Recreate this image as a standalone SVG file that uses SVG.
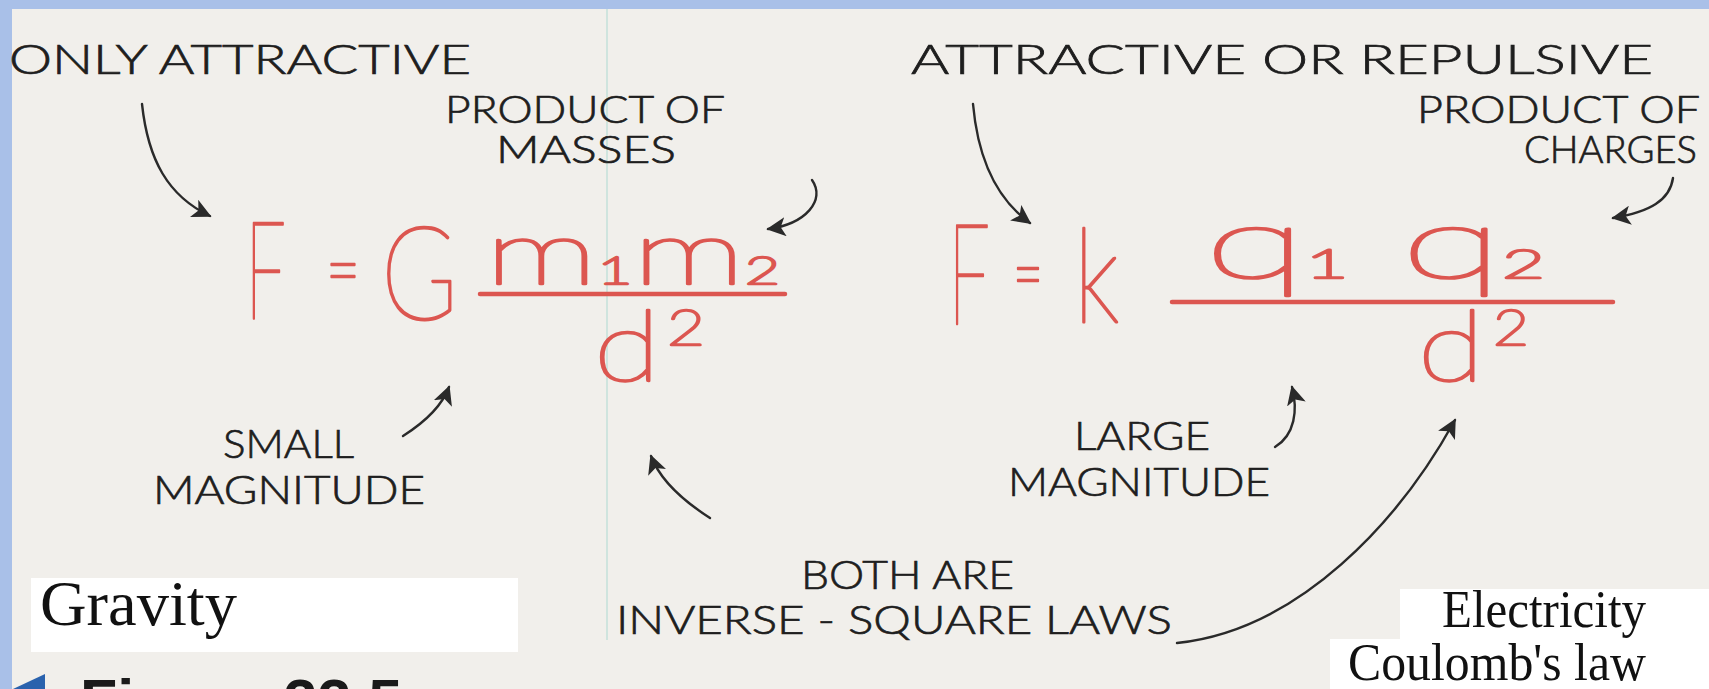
<svg xmlns="http://www.w3.org/2000/svg" width="1709" height="689" viewBox="0 0 1709 689">
<style>
.lbl{font-family:Lato,"Liberation Sans",sans-serif;font-weight:300;fill:#1e1e1e;stroke:#1e1e1e;stroke-width:0.7;}
.eq{font-family:Lato,"Liberation Sans",sans-serif;font-weight:200;fill:#dc5650;stroke:#dc5650;stroke-width:2.6;stroke-linejoin:round;}
.cap{font-family:"Liberation Serif",serif;fill:#111;}
.arr{fill:none;stroke:#2a2a2a;stroke-width:2.4;stroke-linecap:round;marker-end:url(#ah);}
.bar{stroke:#dc5650;stroke-width:4.5;stroke-linecap:round;}
</style>
<defs>
<marker id="ah" viewBox="0 0 12 12" refX="11" refY="6" markerWidth="8" markerHeight="8" orient="auto" markerUnits="strokeWidth">
<path d="M0,0 L12,6 L0,12 L3,6 z" fill="#2a2a2a"/>
</marker>
</defs>
<rect width="1709" height="689" fill="#f1efeb"/>
<rect x="0" y="0" width="1709" height="9" fill="#a9c0e8"/>
<rect x="0" y="0" width="12" height="689" fill="#a9c0e8"/>
<line x1="607" y1="9" x2="607" y2="640" stroke="#cfe4de" stroke-width="2"/>
<g id="label-only-attractive"><text class="lbl" x="9" y="74" font-size="42" textLength="462" lengthAdjust="spacingAndGlyphs">ONLY ATTRACTIVE</text></g>
<g id="label-attractive-or-repulsive"><text class="lbl" x="911" y="74" font-size="42" textLength="742" lengthAdjust="spacingAndGlyphs">ATTRACTIVE  OR  REPULSIVE</text></g>
<g id="label-product-masses">
<text class="lbl" x="445" y="123" font-size="38" textLength="280" lengthAdjust="spacingAndGlyphs">PRODUCT OF</text>
<text class="lbl" x="496" y="163" font-size="38" textLength="180" lengthAdjust="spacingAndGlyphs">MASSES</text>
</g>
<g id="label-product-charges">
<text class="lbl" x="1417" y="123" font-size="38" textLength="283" lengthAdjust="spacingAndGlyphs">PRODUCT OF</text>
<text class="lbl" x="1524" y="163" font-size="38" textLength="173" lengthAdjust="spacingAndGlyphs">CHARGES</text>
</g>
<g id="formula-gravity">
<text class="eq" x="245" y="318" font-size="136" textLength="41" lengthAdjust="spacingAndGlyphs">F</text>
<text class="eq" x="326" y="299" font-size="84" textLength="34" lengthAdjust="spacingAndGlyphs">=</text>
<text class="eq" x="381" y="320" font-size="130" textLength="77" lengthAdjust="spacingAndGlyphs">G</text>
<text class="eq" x="485" y="284" font-size="90" textLength="295" lengthAdjust="spacingAndGlyphs">m<tspan font-size="38">1</tspan>m<tspan font-size="38">2</tspan></text>
<line class="bar" x1="480" y1="294" x2="785" y2="294"/>
<text class="eq" x="594" y="381" font-size="98" textLength="66" lengthAdjust="spacingAndGlyphs">d</text>
<text class="eq" x="667" y="345" font-size="50" textLength="38" lengthAdjust="spacingAndGlyphs">2</text>
</g>
<g id="formula-coulomb">
<text class="eq" x="948" y="324" font-size="140" textLength="42" lengthAdjust="spacingAndGlyphs">F</text>
<text class="eq" x="1013" y="303" font-size="84" textLength="30" lengthAdjust="spacingAndGlyphs">=</text>
<text class="eq" x="1074" y="322" font-size="130" textLength="45" lengthAdjust="spacingAndGlyphs">k</text>
<text class="eq" x="1205" y="278" font-size="100" textLength="340" lengthAdjust="spacingAndGlyphs">q<tspan font-size="40">1</tspan>   q<tspan font-size="40">2</tspan></text>
<line class="bar" x1="1172" y1="302" x2="1613" y2="302"/>
<text class="eq" x="1418" y="381" font-size="98" textLength="66" lengthAdjust="spacingAndGlyphs">d</text>
<text class="eq" x="1493" y="345" font-size="50" textLength="36" lengthAdjust="spacingAndGlyphs">2</text>
</g>
<g id="label-small-magnitude">
<text class="lbl" x="223" y="458" font-size="40" textLength="131" lengthAdjust="spacingAndGlyphs">SMALL</text>
<text class="lbl" x="153" y="504" font-size="40" textLength="272" lengthAdjust="spacingAndGlyphs">MAGNITUDE</text>
</g>
<g id="label-large-magnitude">
<text class="lbl" x="1074" y="450" font-size="40" textLength="136" lengthAdjust="spacingAndGlyphs">LARGE</text>
<text class="lbl" x="1008" y="496" font-size="40" textLength="262" lengthAdjust="spacingAndGlyphs">MAGNITUDE</text>
</g>
<g id="label-inverse-square">
<text class="lbl" x="801" y="589" font-size="40" textLength="213" lengthAdjust="spacingAndGlyphs">BOTH ARE</text>
<text class="lbl" x="616" y="634" font-size="40" textLength="556" lengthAdjust="spacingAndGlyphs">INVERSE - SQUARE LAWS</text>
</g>
<g id="caption-gravity">
<rect x="31" y="578" width="487" height="74" fill="#ffffff"/>
<text class="cap" x="40" y="625" font-size="64" textLength="197" lengthAdjust="spacingAndGlyphs">Gravity</text>
</g>
<g id="caption-electricity">
<rect x="1400" y="589" width="309" height="50" fill="#ffffff"/>
<rect x="1330" y="639" width="379" height="50" fill="#ffffff"/>
<text class="cap" x="1442" y="627" font-size="52" textLength="204" lengthAdjust="spacingAndGlyphs">Electricity</text>
<text class="cap" x="1348" y="680" font-size="52" textLength="298" lengthAdjust="spacingAndGlyphs">Coulomb's law</text>
</g>
<g id="figure-label">
<polygon points="13,689 45,674 45,689" fill="#2a62ad"/>
<text x="80" y="722" font-family="'Liberation Sans',sans-serif" font-weight="bold" font-size="61" fill="#1a1a1a">Figure 22.5</text>
</g>
<g id="connectors">
<path class="arr" d="M142,104 C148,160 168,196 210,216"/>
<path class="arr" d="M812,180 C826,200 806,224 768,229"/>
<path class="arr" d="M403,436 C425,422 442,406 449,387"/>
<path class="arr" d="M710,518 C682,500 660,480 651,456"/>
<path class="arr" d="M973,104 C978,160 998,200 1030,223"/>
<path class="arr" d="M1673,178 C1670,200 1650,212 1613,218"/>
<path class="arr" d="M1275,447 C1295,435 1298,410 1292,387"/>
<path class="arr" d="M1177,643 C1300,630 1400,520 1455,420"/>
</g>
</svg>
